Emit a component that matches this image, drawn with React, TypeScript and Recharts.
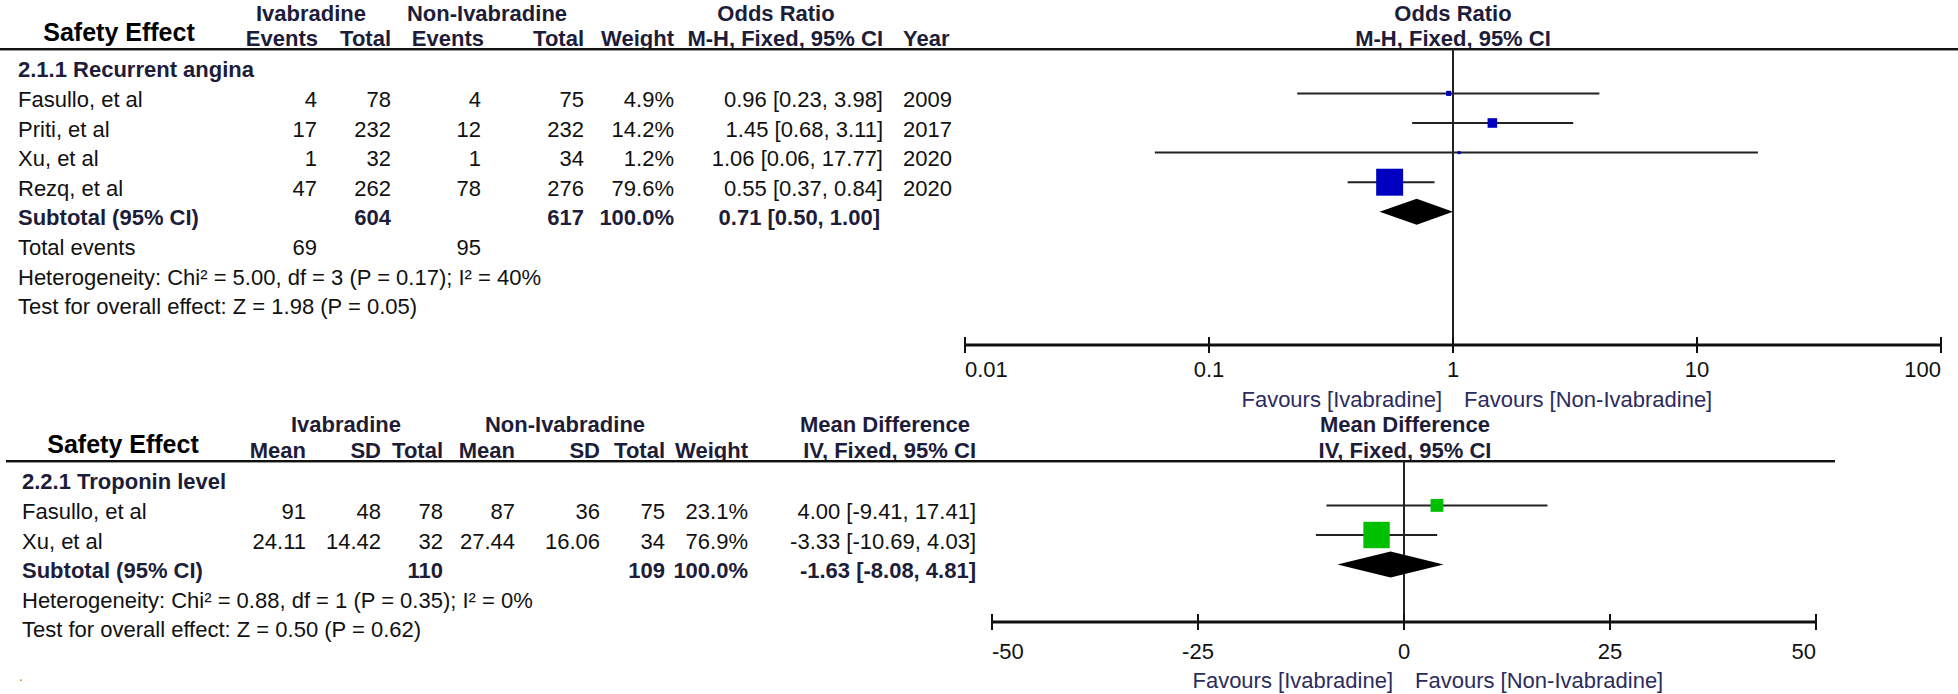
import React from 'react';
import { ScatterChart, Scatter, XAxis, YAxis, ReferenceLine } from 'recharts';

const FONT = '"Liberation Sans", Arial, sans-serif';
const HEAD = '#1d1d3a';
const INK = '#111';

// 2.1.1 Recurrent angina (odds ratio, log axis)
const anginaStudies = ['Fasullo, et al', 'Priti, et al', 'Xu, et al', 'Rezq, et al'];
const anginaIvaEvents = [4, 17, 1, 47];
const anginaIvaTotal = [78, 232, 32, 262];
const anginaNonEvents = [4, 12, 1, 78];
const anginaNonTotal = [75, 232, 34, 276];
const anginaWeight = [4.9, 14.2, 1.2, 79.6];
const anginaOR = [0.96, 1.45, 1.06, 0.55];
const anginaLow = [0.23, 0.68, 0.06, 0.37];
const anginaHigh = [3.98, 3.11, 17.77, 0.84];
const anginaYear = [2009, 2017, 2020, 2020];
const anginaSubTotals = [604, 617];
const anginaPooled = [0.5, 0.71, 1.0];
const anginaEvents = [69, 95];
const anginaHet = 'Heterogeneity: Chi² = 5.00, df = 3 (P = 0.17); I² = 40%';
const anginaTest = 'Test for overall effect: Z = 1.98 (P = 0.05)';
const orTicks = [0.01, 0.1, 1, 10, 100];

// 2.2.1 Troponin level (mean difference)
const tropStudies = ['Fasullo, et al', 'Xu, et al'];
const tropIvaMean = [91, 24.11];
const tropIvaSD = [48, 14.42];
const tropIvaTotal = [78, 32];
const tropNonMean = [87, 27.44];
const tropNonSD = [36, 16.06];
const tropNonTotal = [75, 34];
const tropWeight = [23.1, 76.9];
const tropMD = [4.0, -3.33];
const tropLow = [-9.41, -10.69];
const tropHigh = [17.41, 4.03];
const tropSubTotals = [110, 109];
const tropPooled = [-8.08, -1.63, 4.81];
const tropHet = 'Heterogeneity: Chi² = 0.88, df = 1 (P = 0.35); I² = 0%';
const tropTest = 'Test for overall effect: Z = 0.50 (P = 0.62)';
const mdTicks = [-50, -25, 0, 25, 50];

const RH = 29.6;
const LINE1 = 49;
const LINE2 = 461;
const AXIS1 = 345;
const AXIS2 = 622;
const rowY = (base: number, k: number) => base + (k + 0.5) * RH + 6;
const ci = (v: number[]) => `${v[1].toFixed(2)} [${v[0].toFixed(2)}, ${v[2].toFixed(2)}]`;

// bottom table column right edges
const BC = [306, 381, 443, 515, 600, 665, 748, 976];

function T({ x, y, a = 'start', b = false, s = 22, c = INK, children }: any) {
  return (
    <text x={x} y={y} textAnchor={a} dominantBaseline="central" fontFamily={FONT}
      fontSize={s} fontWeight={b ? 700 : 400} fill={c}>
      {children}
    </text>
  );
}

function AxisTick({ x, y, payload, index, visibleTicksCount, gap }: any) {
  const anchor = index === 0 ? 'start' : index === visibleTicksCount - 1 ? 'end' : 'middle';
  return (
    <g>
      <line x1={x} x2={x} y1={y - 8} y2={y + 8} stroke="#111" strokeWidth={2} />
      <text x={x} y={y + gap} textAnchor={anchor} dominantBaseline="central" fontFamily={FONT} fontSize={22} fill={INK}>
        {payload.value}
      </text>
    </g>
  );
}

const boxShape = (color: string) => (p: any) => {
  const s = Math.max(3, 1.95 * Math.pow(p.payload.w, 0.6));
  return <rect x={p.cx - s / 2} y={p.cy - s / 2} width={s} height={s} fill={color} />;
};
const noShape = () => <g />;
const diamond = (p: any) => {
  const [l, m, r] = p.points;
  const h = 13;
  return <polygon points={`${l.x},${l.y} ${m.x},${m.y - h} ${r.x},${r.y} ${m.x},${m.y + h}`} fill="#000" />;
};

function Forest({ est, low, high, weight, pooled, color, refX, ticks, domain, log, yMax, axisH, gap }: any) {
  const boxes = est.map((v: number, i: number) => ({ x: v, y: i + 1.5, w: weight[i] }));
  const dy = est.length + 1.5;
  return (
    <>
      <XAxis type="number" dataKey="x" scale={log ? 'log' : 'auto'} domain={domain} ticks={ticks} interval={0}
        allowDataOverflow height={axisH} tickSize={0} tickMargin={0} tickLine={false}
        axisLine={{ stroke: '#111', strokeWidth: 3 }} tick={(p: any) => <AxisTick {...p} gap={gap} />} />
      <YAxis type="number" dataKey="y" domain={[0, yMax]} reversed hide />
      <ReferenceLine x={refX} stroke="#222" strokeWidth={2} />
      {est.map((_: number, i: number) => (
        <Scatter key={i} data={[{ x: low[i], y: i + 1.5 }, { x: high[i], y: i + 1.5 }]} shape={noShape}
          line={{ stroke: '#222', strokeWidth: 2 }} isAnimationActive={false} />
      ))}
      <Scatter data={boxes} shape={boxShape(color)} isAnimationActive={false} />
      <Scatter data={pooled.map((v: number) => ({ x: v, y: dy }))} shape={noShape} line={diamond} isAnimationActive={false} />
    </>
  );
}

function Favours({ cx, y }: any) {
  return (
    <>
      <T x={cx - 11} y={y} a="end" c="#2b2b5e">Favours [Ivabradine]</T>
      <T x={cx + 11} y={y} c="#2b2b5e">Favours [Non-Ivabradine]</T>
    </>
  );
}

export default function App() {
  const h1 = LINE1 - 36, h2 = LINE1 - 11;
  const b1 = LINE2 - 37, b2 = LINE2 - 11;
  return (
    <div style={{ position: 'absolute', left: 0, top: 0, width: 1958, height: 694, background: '#fff', overflow: 'hidden' }}>
      <svg width={1958} height={694} style={{ position: 'absolute', left: 0, top: 0 }}>
        {/* top table */}
        <T x={119} y={LINE1 - 17} a="middle" b s={25} c="#000">Safety Effect</T>
        <T x={311} y={h1} a="middle" b c={HEAD}>Ivabradine</T>
        <T x={487} y={h1} a="middle" b c={HEAD}>Non-Ivabradine</T>
        <T x={776} y={h1} a="middle" b c={HEAD}>Odds Ratio</T>
        <T x={1453} y={h1} a="middle" b c={HEAD}>Odds Ratio</T>
        <T x={318} y={h2} a="end" b c={HEAD}>Events</T>
        <T x={391} y={h2} a="end" b c={HEAD}>Total</T>
        <T x={484} y={h2} a="end" b c={HEAD}>Events</T>
        <T x={584} y={h2} a="end" b c={HEAD}>Total</T>
        <T x={674} y={h2} a="end" b c={HEAD}>Weight</T>
        <T x={883} y={h2} a="end" b c={HEAD}>M-H, Fixed, 95% CI</T>
        <T x={903} y={h2} b c={HEAD}>Year</T>
        <T x={1453} y={h2} a="middle" b c={HEAD}>M-H, Fixed, 95% CI</T>
        <line x1={0} x2={1958} y1={LINE1} y2={LINE1} stroke="#111" strokeWidth={2} />
        <line x1={0} x2={1958} y1={LINE1 + 1.5} y2={LINE1 + 1.5} stroke="#999" strokeWidth={1} />
        <T x={18} y={rowY(LINE1, 0)} b c={HEAD}>2.1.1 Recurrent angina</T>
        {anginaStudies.map((n, i) => {
          const y = rowY(LINE1, i + 1);
          return (
            <g key={n}>
              <T x={18} y={y}>{n}</T>
              <T x={317} y={y} a="end">{anginaIvaEvents[i]}</T>
              <T x={391} y={y} a="end">{anginaIvaTotal[i]}</T>
              <T x={481} y={y} a="end">{anginaNonEvents[i]}</T>
              <T x={584} y={y} a="end">{anginaNonTotal[i]}</T>
              <T x={674} y={y} a="end">{anginaWeight[i].toFixed(1)}%</T>
              <T x={883} y={y} a="end">{ci([anginaLow[i], anginaOR[i], anginaHigh[i]])}</T>
              <T x={903} y={y}>{anginaYear[i]}</T>
            </g>
          );
        })}
        <T x={18} y={rowY(LINE1, 5)} b c={HEAD}>Subtotal (95% CI)</T>
        <T x={391} y={rowY(LINE1, 5)} a="end" b c={HEAD}>{anginaSubTotals[0]}</T>
        <T x={584} y={rowY(LINE1, 5)} a="end" b c={HEAD}>{anginaSubTotals[1]}</T>
        <T x={674} y={rowY(LINE1, 5)} a="end" b c={HEAD}>100.0%</T>
        <T x={880} y={rowY(LINE1, 5)} a="end" b c={HEAD}>{ci(anginaPooled)}</T>
        <T x={18} y={rowY(LINE1, 6)}>Total events</T>
        <T x={317} y={rowY(LINE1, 6)} a="end">{anginaEvents[0]}</T>
        <T x={481} y={rowY(LINE1, 6)} a="end">{anginaEvents[1]}</T>
        <T x={18} y={rowY(LINE1, 7)}>{anginaHet}</T>
        <T x={18} y={rowY(LINE1, 8)}>{anginaTest}</T>
        <Favours cx={1453} y={399} />

        {/* bottom table */}
        <T x={123} y={LINE2 - 17} a="middle" b s={25} c="#000">Safety Effect</T>
        <T x={346} y={b1} a="middle" b c={HEAD}>Ivabradine</T>
        <T x={565} y={b1} a="middle" b c={HEAD}>Non-Ivabradine</T>
        <T x={885} y={b1} a="middle" b c={HEAD}>Mean Difference</T>
        <T x={1405} y={b1} a="middle" b c={HEAD}>Mean Difference</T>
        {['Mean', 'SD', 'Total', 'Mean', 'SD', 'Total', 'Weight', 'IV, Fixed, 95% CI'].map((h, i) => (
          <T key={i} x={BC[i]} y={b2} a="end" b c={HEAD}>{h}</T>
        ))}
        <T x={1405} y={b2} a="middle" b c={HEAD}>IV, Fixed, 95% CI</T>
        <line x1={6} x2={1835} y1={LINE2} y2={LINE2} stroke="#111" strokeWidth={2} />
        <line x1={6} x2={1835} y1={LINE2 + 1.5} y2={LINE2 + 1.5} stroke="#999" strokeWidth={1} />
        <T x={22} y={rowY(LINE2, 0)} b c={HEAD}>2.2.1 Troponin level</T>
        {tropStudies.map((n, i) => {
          const y = rowY(LINE2, i + 1);
          const cells = [tropIvaMean[i], tropIvaSD[i], tropIvaTotal[i], tropNonMean[i], tropNonSD[i], tropNonTotal[i],
            `${tropWeight[i].toFixed(1)}%`, ci([tropLow[i], tropMD[i], tropHigh[i]])];
          return (
            <g key={n}>
              <T x={22} y={y}>{n}</T>
              {cells.map((v, j) => <T key={j} x={BC[j]} y={y} a="end">{v}</T>)}
            </g>
          );
        })}
        <T x={22} y={rowY(LINE2, 3)} b c={HEAD}>Subtotal (95% CI)</T>
        <T x={BC[2]} y={rowY(LINE2, 3)} a="end" b c={HEAD}>{tropSubTotals[0]}</T>
        <T x={BC[5]} y={rowY(LINE2, 3)} a="end" b c={HEAD}>{tropSubTotals[1]}</T>
        <T x={BC[6]} y={rowY(LINE2, 3)} a="end" b c={HEAD}>100.0%</T>
        <T x={BC[7]} y={rowY(LINE2, 3)} a="end" b c={HEAD}>{ci(tropPooled)}</T>
        <T x={22} y={rowY(LINE2, 4)}>{tropHet}</T>
        <T x={22} y={rowY(LINE2, 5)}>{tropTest}</T>
        <T x={19} y={676} s={14} c="#d07020">.</T>
        <Favours cx={1404} y={680} />
      </svg>

      <div style={{ position: 'absolute', left: 955, top: 0 }}>
        <ScatterChart width={1003} height={410} margin={{ top: LINE1, right: 17, bottom: 0, left: 10 }}>
          {Forest({ est: anginaOR, low: anginaLow, high: anginaHigh, weight: anginaWeight, pooled: anginaPooled,
            color: '#0000c0', refX: 1, ticks: orTicks, domain: [0.01, 100], log: true,
            yMax: (AXIS1 - LINE1) / RH, axisH: 410 - AXIS1, gap: 24 })}
        </ScatterChart>
      </div>
      <div style={{ position: 'absolute', left: 982, top: 400 }}>
        <ScatterChart width={976} height={294} margin={{ top: LINE2 - 400, right: 142, bottom: 0, left: 10 }}>
          {Forest({ est: tropMD, low: tropLow, high: tropHigh, weight: tropWeight, pooled: tropPooled,
            color: '#00c000', refX: 0, ticks: mdTicks, domain: [-50, 50], log: false,
            yMax: (AXIS2 - LINE2) / RH, axisH: 694 - AXIS2, gap: 29 })}
        </ScatterChart>
      </div>
    </div>
  );
}
